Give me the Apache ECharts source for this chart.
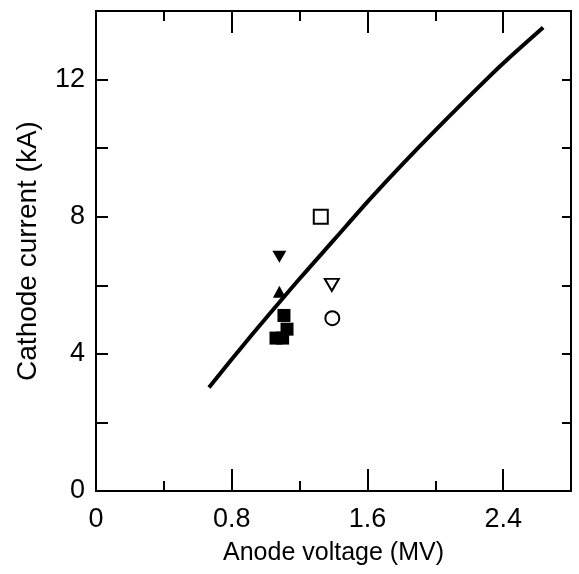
<!DOCTYPE html>
<html>
<head>
<meta charset="utf-8">
<script src="https://cdn.jsdelivr.net/npm/echarts@6/dist/echarts.min.js"></script>
<style>
html,body{margin:0;padding:0;background:#fff;}
#chart{width:579px;height:574px;}
</style>
</head>
<body>
<div id="chart"></div>
<script>
// Fitted curve (anode voltage MV, cathode current kA)
const curveX = [0.666, 0.80, 0.908, 1.0, 1.2, 1.4, 1.616, 1.8, 2.0, 2.294, 2.45, 2.636];
const curveY = [3.02, 3.84, 4.49, 5.03, 6.19, 7.31, 8.52, 9.50, 10.52, 11.97, 12.70, 13.52];

// Measured points
const openSquareX = [1.325];           const openSquareY = [8.0];
const filledDownTriX = [1.081];        const filledDownTriY = [6.83];
const openDownTriX = [1.39];           const openDownTriY = [6.01];
const filledUpTriX = [1.081];          const filledUpTriY = [5.81];
const openCircleX = [1.393];           const openCircleY = [5.04];
const filledSquareX = [1.108, 1.126, 1.061, 1.10];
const filledSquareY = [5.12, 4.72, 4.46, 4.46];

// Axis ticks
const xMajorTicks = [0, 0.8, 1.6, 2.4];
const yMajorTicks = [0, 4, 8, 12];

const zip = (a, b) => a.map((v, i) => [v, b[i]]);
const FONT = 'Liberation Sans, Arial, Helvetica, sans-serif';
const black = '#000';

function isIn(list, v) { return list.some(t => Math.abs(t - v) < 1e-6); }

const chart = echarts.init(document.getElementById('chart'), null, {renderer: 'canvas'});

const lineStyle = {color: black, width: 2};
function xAx(pos, interval, len, labels, extra) {
  return Object.assign({
    type: 'value', position: pos, min: 0, max: 2.8, interval: interval,
    axisLine: {show: true, onZero: false, lineStyle: lineStyle},
    axisTick: {show: true, inside: true, length: len, lineStyle: lineStyle},
    axisLabel: labels ? {
      show: true, margin: 15, color: black, fontSize: 27, fontFamily: FONT,
      formatter: v => isIn(xMajorTicks, v) ? String(+v.toFixed(1)) : ''
    } : {show: false},
    splitLine: {show: false}
  }, extra || {});
}
function yAx(pos, len, labels, extra) {
  return Object.assign({
    type: 'value', position: pos, min: 0, max: 14, interval: 2,
    axisLine: {show: true, onZero: false, lineStyle: lineStyle},
    axisTick: {show: true, inside: true, length: len, lineStyle: lineStyle},
    axisLabel: labels ? {
      show: true, margin: 11, color: black, fontSize: 27, fontFamily: FONT,
      formatter: v => isIn(yMajorTicks, v) ? String(v) : ''
    } : {show: false},
    splitLine: {show: false}
  }, extra || {});
}

const option = {
  backgroundColor: '#fff',
  animation: false,
  grid: {left: 96, right: 8, top: 11, bottom: 83, containLabel: false},
  xAxis: [
    xAx('bottom', 0.8, 22, true, {
      name: 'Anode voltage (MV)', nameLocation: 'middle', nameGap: 50,
      nameTextStyle: {color: black, fontSize: 25, fontFamily: FONT}
    }),
    xAx('bottom', 0.4, 10, false),
    xAx('top', 0.8, 22, false),
    xAx('top', 0.4, 10, false)
  ],
  yAxis: [
    yAx('left', 12, true, {
      name: 'Cathode current (kA)', nameLocation: 'middle', nameGap: 54, nameRotate: 90,
      nameTextStyle: {color: black, fontSize: 28, fontFamily: FONT}
    }),
    yAx('right', 9, false)
  ],
  series: [
    {type: 'line', data: zip(curveX, curveY), smooth: 0.3, showSymbol: false,
     lineStyle: {color: black, width: 4}, z: 2},
    {type: 'scatter', data: zip(openSquareX, openSquareY), symbol: 'rect', symbolSize: 14,
     itemStyle: {color: '#fff', borderColor: black, borderWidth: 2, opacity: 1}, z: 3},
    {type: 'scatter', data: zip(filledDownTriX, filledDownTriY), symbol: 'triangle', symbolRotate: 180,
     symbolSize: [14, 12], itemStyle: {color: black, opacity: 1}, z: 3},
    {type: 'scatter', data: zip(openDownTriX, openDownTriY), symbol: 'triangle', symbolRotate: 180,
     symbolSize: [14, 12], itemStyle: {color: '#fff', borderColor: black, borderWidth: 2, opacity: 1}, z: 3},
    {type: 'scatter', data: zip(filledUpTriX, filledUpTriY), symbol: 'triangle',
     symbolSize: [13, 12], itemStyle: {color: black, opacity: 1}, z: 3},
    {type: 'scatter', data: zip(openCircleX, openCircleY), symbol: 'circle', symbolSize: 14,
     itemStyle: {color: '#fff', borderColor: black, borderWidth: 2, opacity: 1}, z: 3},
    {type: 'scatter', data: zip(filledSquareX, filledSquareY), symbol: 'rect', symbolSize: 13,
     itemStyle: {color: black, opacity: 1}, z: 3}
  ]
};
chart.setOption(option);
</script>
</body>
</html>
